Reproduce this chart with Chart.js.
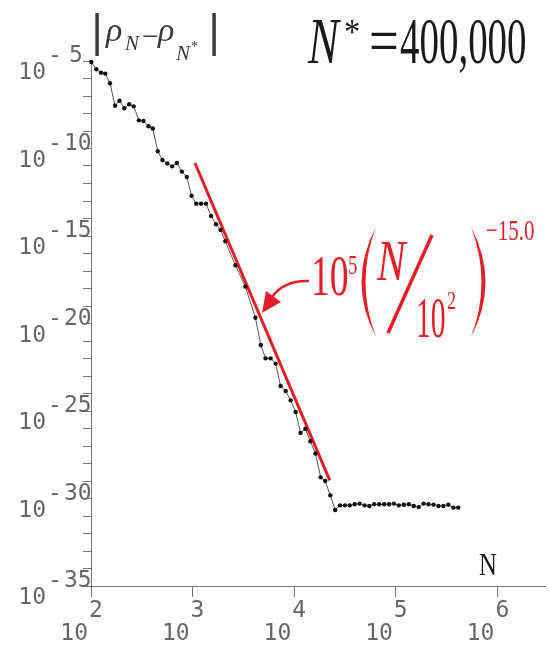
<!DOCTYPE html>
<html>
<head>
<meta charset="utf-8">
<script src="https://cdn.jsdelivr.net/npm/chart.js@4.4.1/dist/chart.umd.min.js"></script>
<style>
  body { margin: 0; background: #fff; }
  canvas { display: block; }
</style>
</head>
<body>
<canvas id="chart" width="549" height="646"></canvas>
<script>
// exponents: log10(N) and log10|rho_N - rho_N*|
const logN = [2.003, 2.053, 2.098, 2.140, 2.187, 2.237, 2.280, 2.328, 2.376, 2.421,
  2.471, 2.516, 2.566, 2.608, 2.657, 2.703, 2.751, 2.799, 2.845, 2.894,
  2.943, 2.990, 3.036, 3.083, 3.132, 3.182, 3.230, 3.275, 3.322, 3.421,
  3.519, 3.618, 3.671, 3.718, 3.767, 3.817, 3.866, 3.916, 3.965, 4.014,
  4.062, 4.110, 4.159, 4.209, 4.260, 4.305, 4.355, 4.403, 4.451, 4.500,
  4.547, 4.595, 4.644, 4.693, 4.739, 4.787, 4.836, 4.885, 4.933, 4.982,
  5.030, 5.079, 5.128, 5.176, 5.225, 5.274, 5.322, 5.371, 5.420, 5.468,
  5.517, 5.566, 5.614];
const logGap = [-5.06, -5.47, -5.67, -5.72, -6.27, -7.56, -7.27, -7.70, -7.47, -7.59,
  -8.39, -8.43, -8.73, -8.86, -10.16, -10.66, -10.85, -11.02, -10.83, -11.32,
  -11.63, -12.70, -13.15, -13.15, -13.15, -13.86, -14.33, -14.65, -15.30, -16.67,
  -17.89, -19.67, -21.23, -21.99, -21.99, -22.29, -23.57, -23.86, -24.39, -25.06,
  -26.25, -26.01, -26.73, -27.43, -28.79, -29.00, -29.82, -30.66, -30.39, -30.39,
  -30.39, -30.33, -30.29, -30.39, -30.43, -30.33, -30.33, -30.33, -30.33, -30.29,
  -30.39, -30.36, -30.33, -30.43, -30.49, -30.29, -30.33, -30.35, -30.43, -30.43,
  -30.35, -30.52, -30.52];

// red fitted power law, end points
const fitLogN = [3.023, 4.350];
const fitLogGap = [-10.83, -28.96];

// axis decades
const xTickExp = [2, 3, 4, 5, 6];
const yTickExp = [-5, -6, -7, -8, -9, -10, -11, -12, -13, -14, -15, -16, -17, -18, -19, -20,
  -21, -22, -23, -24, -25, -26, -27, -28, -29, -30, -31, -32, -33, -34, -35];
const yLabelExp = [-5, -10, -15, -20, -25, -30, -35];

const RED = '#e41e26';
const AXIS = '#777';

const points = logN.map((e, i) => ({ x: 10 ** e, y: 10 ** logGap[i] }));
const fitPoints = fitLogN.map((e, i) => ({ x: 10 ** e, y: 10 ** fitLogGap[i] }));

// draw text squeezed horizontally by sx
function piece(ctx, str, font, x, base, sx) {
  ctx.font = font;
  ctx.save();
  ctx.translate(x, base);
  ctx.scale(sx || 1, 1);
  ctx.fillText(str, 0, 0);
  const w = ctx.measureText(str).width;
  ctx.restore();
  return w * (sx || 1);
}

// a tall bracket as a filled crescent, dir -1 for '(' and 1 for ')'
function paren(ctx, x, top, bottom, dir) {
  const mid = (top + bottom) / 2;
  ctx.beginPath();
  ctx.moveTo(x, top);
  ctx.quadraticCurveTo(x + dir * 29, mid, x, bottom);
  ctx.quadraticCurveTo(x + dir * 21, mid, x, top);
  ctx.fill();
}

const labelsPlugin = {
  id: 'labels',
  afterDraw(chart) {
    const ctx = chart.ctx;
    const xs = chart.scales.x, ys = chart.scales.y;
    ctx.save();
    ctx.textAlign = 'left';
    ctx.textBaseline = 'alphabetic';

    // tick labels 10^k
    const mono = '23px "DejaVu Sans Mono"';
    ctx.fillStyle = '#666';
    yLabelExp.forEach(e => {
      const py = ys.getPixelForValue(10 ** e);
      ctx.font = mono;
      ctx.textAlign = 'right';
      ctx.fillText('10', 46, py + 18);
      ctx.textAlign = 'center';
      ctx.fillText('-', 55, py + 1);
      ctx.textAlign = 'left';
      const digits = String(-e);
      ctx.fillText(digits, digits.length === 1 ? 69 : 64, py + 1);
    });
    xTickExp.forEach(e => {
      const px = xs.getPixelForValue(10 ** e);
      ctx.font = mono;
      ctx.textAlign = 'right';
      ctx.fillText('10', px - 3, 640);
      ctx.textAlign = 'left';
      ctx.fillText(String(e), px - 2, 617);
    });

    // y title |rho_N - rho_N*|
    ctx.fillStyle = '#3a3a3a';
    piece(ctx, '|', '42px "DejaVu Sans"', 90, 46);
    piece(ctx, '\u03c1', 'italic 34px "Liberation Serif"', 106, 41);
    piece(ctx, 'N', 'italic 21px "Liberation Serif"', 125, 50);
    piece(ctx, '\u2212', '30px "Liberation Serif"', 142, 46);
    piece(ctx, '\u03c1', 'italic 34px "Liberation Serif"', 158, 41);
    piece(ctx, 'N', 'italic 21px "Liberation Serif"', 176, 60);
    piece(ctx, '*', '14px "Liberation Serif"', 191, 51);
    piece(ctx, '|', '42px "DejaVu Sans"', 207, 46);

    // N* = 400,000
    ctx.fillStyle = '#1a1a1a';
    piece(ctx, 'N', 'italic 66px "Liberation Serif"', 308, 63, 0.7);
    piece(ctx, '*', '36px "Liberation Serif"', 344, 44, 0.9);
    piece(ctx, '=', '66px "Liberation Serif"', 369, 63, 0.8);
    piece(ctx, '400,000', '66px "Liberation Serif"', 400, 63, 0.59);

    // axis name
    piece(ctx, 'N', '31px "Liberation Serif"', 479, 575, 0.8);

    // red formula 10^5 (N/10^2)^-15.0
    ctx.fillStyle = RED;
    ctx.strokeStyle = RED;
    piece(ctx, '10', '57px "Liberation Serif"', 311, 295, 0.66);
    piece(ctx, '5', '27px "Liberation Serif"', 348, 274, 0.7);
    paren(ctx, 376, 227, 337, -1);
    piece(ctx, 'N', 'italic 57px "Liberation Serif"', 377, 280, 0.75);
    ctx.lineWidth = 3.5;
    ctx.beginPath();
    ctx.moveTo(432, 235);
    ctx.lineTo(388, 333);
    ctx.stroke();
    piece(ctx, '10', '57px "Liberation Serif"', 416, 337, 0.52);
    piece(ctx, '2', '26px "Liberation Serif"', 447, 309, 0.7);
    paren(ctx, 471, 227, 337, 1);
    piece(ctx, '\u221215.0', '30px "Liberation Serif"', 486, 240, 0.7);

    // arrow
    ctx.lineWidth = 2.6;
    ctx.beginPath();
    ctx.moveTo(309, 281);
    ctx.quadraticCurveTo(284, 280, 272, 297);
    ctx.stroke();
    ctx.beginPath();
    ctx.moveTo(262, 313);
    ctx.lineTo(266, 291);
    ctx.lineTo(281, 302);
    ctx.closePath();
    ctx.fill();

    ctx.restore();
  }
};

new Chart(document.getElementById('chart'), {
  type: 'scatter',
  data: {
    datasets: [{
      data: points,
      showLine: true,
      borderColor: '#555',
      borderWidth: 1,
      pointRadius: 2.2,
      pointBackgroundColor: '#111',
      pointBorderWidth: 0,
      clip: false
    }, {
      data: fitPoints,
      showLine: true,
      borderColor: RED,
      borderWidth: 3,
      pointRadius: 0,
      clip: false
    }]
  },
  options: {
    responsive: false,
    animation: false,
    devicePixelRatio: 1,
    layout: { padding: { top: 61, right: 0, bottom: 0, left: 0 } },
    plugins: {
      legend: { display: false },
      tooltip: { enabled: false }
    },
    scales: {
      x: {
        type: 'logarithmic',
        min: 1e2,
        max: 10 ** 6.468,
        afterBuildTicks: s => { s.ticks = xTickExp.map(e => ({ value: 10 ** e })); },
        afterFit: s => { s.height = 60; },
        ticks: { display: false },
        grid: { drawOnChartArea: false, drawTicks: true, tickLength: 11, color: AXIS },
        border: { color: AXIS, width: 1 }
      },
      y: {
        type: 'logarithmic',
        min: 1e-35,
        max: 1e-5,
        afterBuildTicks: s => { s.ticks = yTickExp.map(e => ({ value: 10 ** e })); },
        afterFit: s => { s.width = 91; },
        ticks: { display: false },
        grid: { drawOnChartArea: false, drawTicks: true, tickLength: 8, color: AXIS },
        border: { color: AXIS, width: 1 }
      }
    }
  },
  plugins: [labelsPlugin]
});
</script>
</body>
</html>
